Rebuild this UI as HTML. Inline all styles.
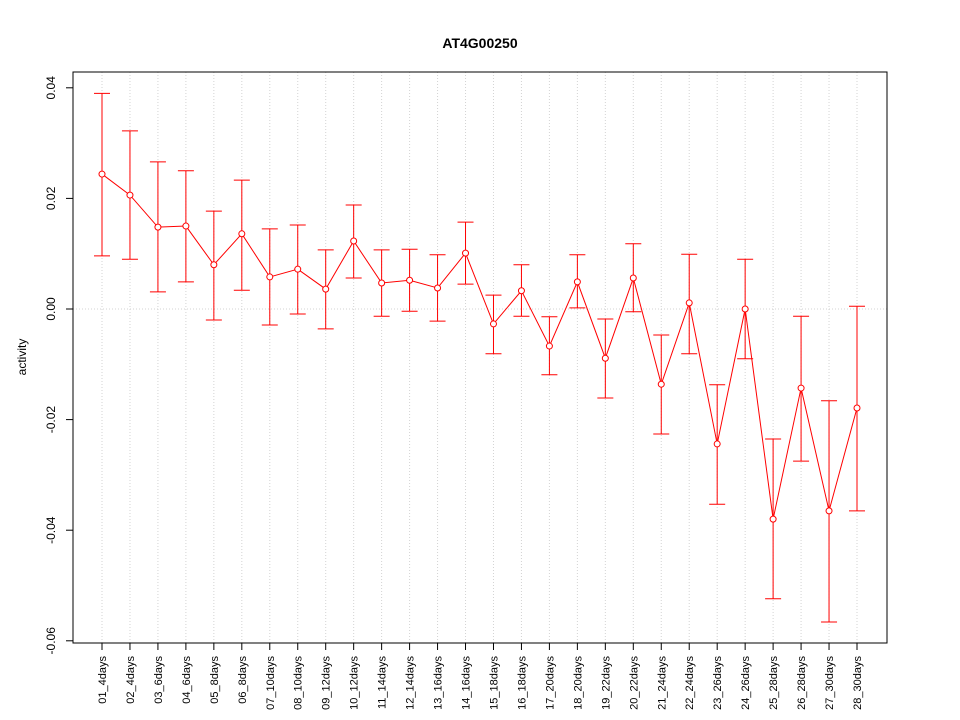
<!DOCTYPE html>
<html><head><meta charset="utf-8"><style>
html,body{margin:0;padding:0;background:#fff;}
svg{display:block;font-family:"Liberation Sans",sans-serif;}
</style></head><body>
<svg id="chart" width="960" height="720">
<rect width="960" height="720" fill="#fff"/>
<text x="480" y="48" text-anchor="middle" font-weight="bold" font-size="14">AT4G00250</text>
<text transform="translate(26,357) rotate(-90)" text-anchor="middle" font-size="12">activity</text>
<g id="grid"></g><g id="axes"></g><g id="series"></g>
<rect x="73" y="72" width="814" height="571" fill="none" stroke="#000"/>
</svg>
<script>
const categories=["01_4days","02_4days","03_6days","04_6days","05_8days","06_8days","07_10days","08_10days","09_12days","10_12days","11_14days","12_14days","13_16days","14_16days","15_18days","16_18days","17_20days","18_20days","19_22days","20_22days","21_24days","22_24days","23_26days","24_26days","25_28days","26_28days","27_30days","28_30days"];
const means=[0.0244,0.0206,0.0148,0.015,0.008,0.0136,0.0058,0.0072,0.0036,0.0123,0.0047,0.0052,0.0038,0.0101,-0.0027,0.0033,-0.0067,0.0049,-0.0089,0.0056,-0.0136,0.0011,-0.0244,0.0,-0.038,-0.0143,-0.0365,-0.0179];
const upper=[0.039,0.0322,0.0266,0.025,0.0177,0.0233,0.0145,0.0152,0.0107,0.0188,0.0107,0.0108,0.0098,0.0157,0.0025,0.008,-0.0014,0.0098,-0.0018,0.0118,-0.0047,0.0099,-0.0137,0.009,-0.0235,-0.0013,-0.0166,0.0005];
const lower=[0.0096,0.009,0.0031,0.0049,-0.002,0.0034,-0.0029,-0.0009,-0.0036,0.0056,-0.0013,-0.0004,-0.0022,0.0045,-0.0081,-0.0013,-0.0119,0.0002,-0.0161,-0.0005,-0.0226,-0.0081,-0.0353,-0.009,-0.0524,-0.0275,-0.0566,-0.0365];
const yTicks=[0.04,0.02,0.00,-0.02,-0.04,-0.06];
const yTickLabels=["0.04","0.02","0.00","-0.02","-0.04","-0.06"];
const NS="http://www.w3.org/2000/svg";
function xS(i){return 102+i*(857-102)/(categories.length-1);}
function yS(v){return 309-v*5530;}
function mk(tag,attrs,parent){const e=document.createElementNS(NS,tag);for(const k in attrs)e.setAttribute(k,attrs[k]);parent.appendChild(e);return e;}
const grid=document.getElementById('grid'),axes=document.getElementById('axes'),ser=document.getElementById('series');
categories.forEach((c,i)=>{
 const g=mk('line',{x1:xS(i),x2:xS(i),y1:72,y2:643,stroke:'#d3d3d3','stroke-dasharray':'1,2'},grid);
 
 
 const t=mk('line',{x1:xS(i),x2:xS(i),y1:643,y2:650,stroke:'#000'},axes);
 
 
 const l=mk('text',{transform:`translate(${xS(i)+4},656) rotate(-90)`,'text-anchor':'end','font-size':'11'},axes);
 l.textContent=c;
 
 
});
const hz=mk('line',{x1:73,x2:887,y1:yS(0),y2:yS(0),stroke:'#d3d3d3','stroke-dasharray':'1,2'},grid);


yTicks.forEach((v,i)=>{
 const t=mk('line',{x1:66,x2:73,y1:yS(v),y2:yS(v),stroke:'#000'},axes);
 
 
 const l=mk('text',{transform:`translate(55,${yS(v)}) rotate(-90)`,'text-anchor':'middle','font-size':'12'},axes);
 l.textContent=yTickLabels[i];
 
 
});
const line=mk('polyline',{points:means.map((v,i)=>xS(i)+','+yS(v)).join(' '),fill:'none',stroke:'#ff0000'},ser);


means.forEach((v,i)=>{
 const x=xS(i);
 const e=mk('path',{d:`M${x},${yS(upper[i])}V${yS(lower[i])}M${x-8},${yS(upper[i])}H${x+8}M${x-8},${yS(lower[i])}H${x+8}`,stroke:'#ff0000',fill:'none'},ser);
 
 
 const c=mk('circle',{cx:x,cy:yS(v),r:3,fill:'#fff',stroke:'#ff0000'},ser);
 
 
});
</script>
</body></html>
